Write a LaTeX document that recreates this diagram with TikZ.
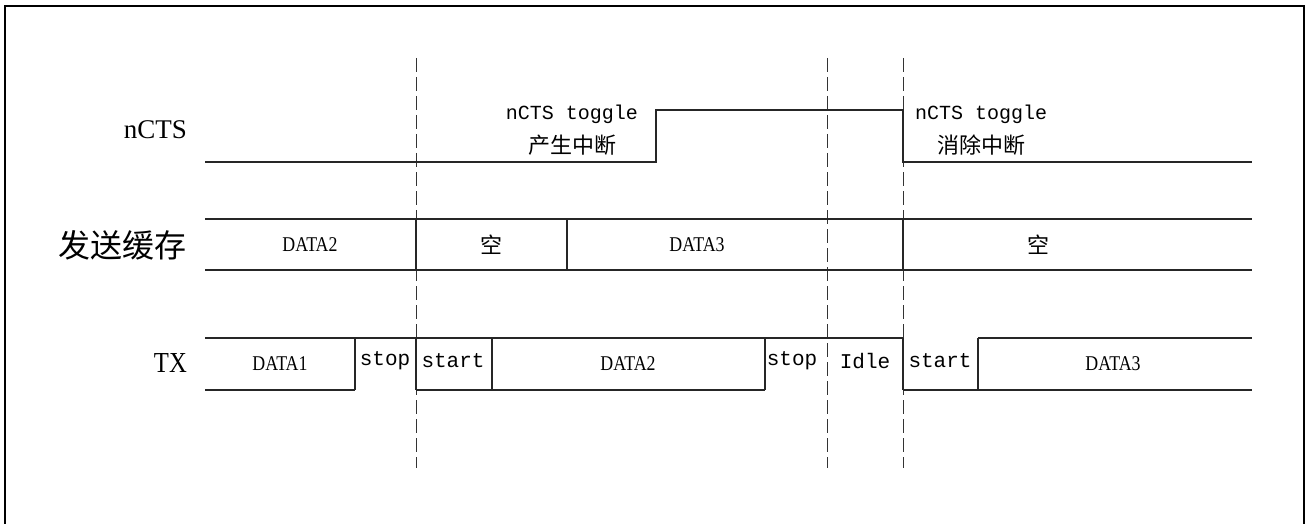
\documentclass[tikz,border=0pt]{standalone}
\usepackage{fontspec}
\setmainfont{Liberation Serif}
\newfontfamily\cjk{Noto Sans CJK SC}
\newfontfamily\mono{Liberation Mono}
\newfontfamily\cond[FakeStretch=0.85]{Liberation Serif}
\begin{document}
\begin{tikzpicture}[x=1pt,y=-1pt,
  sig/.style={line width=1.1pt,black!85},
  guide/.style={line width=0.9pt,black!80,dash pattern=on 14pt off 5pt},
  frame/.style={line width=2.2pt,black},
  rowlabel/.style={anchor=east,inner sep=0pt,font=\fontsize{27}{30}\selectfont},
  cjkrow/.style={anchor=east,inner sep=0pt,font=\cjk\fontsize{32}{36}\selectfont},
  datalbl/.style={inner sep=0pt,font=\cond\fontsize{21}{24}\selectfont},
  cjklbl/.style={inner sep=0pt,font=\cjk\fontsize{22}{26}\selectfont},
  monolbl/.style={inner sep=0pt,font=\mono\fontsize{21}{24}\selectfont},
  note/.style={inner sep=0pt,align=center,font=\mono\fontsize{20}{34}\selectfont}]
\useasboundingbox (0,0) rectangle (1309,524);
\draw[frame] (5,524) -- (5,6) -- (1304,6) -- (1304,524);

% guides
\draw[guide] (416,58) -- (416,468);
\draw[guide] (827,58) -- (827,468);
\draw[guide] (903,58) -- (903,468);

% row labels
\node[rowlabel] (lcts) at (187,130) {nCTS};
\node[cjkrow] (lbuf) at (187,245) {发送缓存};
\node[rowlabel,font=\cond\fontsize{29}{32}\selectfont] (ltx) at (187,363) {TX};

% nCTS waveform
\draw[sig] (205,162) -- (656,162) -- (656,110) -- (903,110) -- (903,162) -- (1252,162);
\node[note] (t1) at (572,130) {nCTS toggle\\{\cjk\fontsize{22}{26}\selectfont 产生中断}};
\node[note] (t2) at (981,130) {nCTS toggle\\{\cjk\fontsize{22}{26}\selectfont 消除中断}};

% buffer row
\draw[sig] (205,219) -- (1252,219);
\draw[sig] (205,270) -- (1252,270);
\draw[sig] (416,219) -- (416,270);
\draw[sig] (567,219) -- (567,270);
\draw[sig] (903,219) -- (903,270);
\node[datalbl] (b1) at (310,245) {DATA2};
\node[cjklbl] (b2) at (491,245) {空};
\node[datalbl] (b3) at (697,245) {DATA3};
\node[cjklbl] (b4) at (1038,245) {空};

% TX row
\draw[sig] (205,338) -- (903,338);
\draw[sig] (978,338) -- (1252,338);
\draw[sig] (205,390) -- (355,390);
\draw[sig] (416,390) -- (765,390);
\draw[sig] (903,390) -- (1252,390);
\foreach \xx in {355,416,492,765,903,978} \draw[sig] (\xx,338) -- (\xx,390);
\node[datalbl] (x1) at (280,364) {DATA1};
\node[monolbl] (x2) at (385,361) {stop};
\node[monolbl] (x3) at (453,361) {start};
\node[datalbl] (x4) at (628,364) {DATA2};
\node[monolbl] (x5) at (792,361) {stop};
\node[monolbl] (x6) at (865,361) {Idle};
\node[monolbl] (x7) at (940,361) {start};
\node[datalbl] (x8) at (1113,364) {DATA3};
\end{tikzpicture}
\end{document}
